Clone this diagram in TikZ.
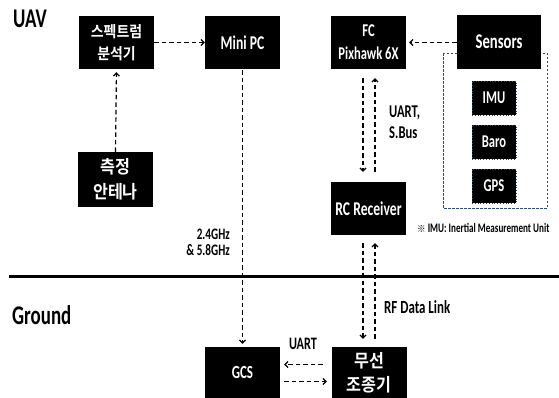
\documentclass[tikz,border=0pt]{standalone}
\usepackage{fontspec}
\setmainfont{Carlito}[FakeStretch=0.7]
\newfontfamily\kr{Noto Sans CJK KR Bold}[FakeStretch=0.9]
\usetikzlibrary{arrows.meta}
\definecolor{navy}{HTML}{2F4A7A}
\begin{document}
\begin{tikzpicture}[x=1pt,y=-1pt,
  blk/.style={fill=black,text=white,inner sep=0pt,minimum width=75pt,minimum height=53pt,align=center},
  lat/.style={font=\bfseries\fontsize{#1}{22}\selectfont},
  conn/.style={line width=1.2pt,dash pattern=on 4.5pt off 3pt,
    -{Straight Barb[length=3pt,width=6pt,line width=1.2pt]}},
  lbl/.style={inner sep=0pt,align=left}]
\useasboundingbox (0,0) rectangle (559,397);
% section titles
\node[lbl,anchor=west,font=\bfseries\fontsize{27}{30}\selectfont] (uav) at (13,19) {UAV};
\node[lbl,anchor=west,font=\bfseries\fontsize{27}{30}\selectfont] (ground) at (12,315) {Ground};
\draw[line width=3pt] (9,276) -- (559,276);
% sensor group
\draw[navy,line width=0.9pt,dash pattern=on 2.5pt off 1.5pt] (443,53) rectangle (547,208);
% boxes
\node[blk,font=\kr\fontsize{15.5}{22}\selectfont] (spec) at (116.5,42.5) {스펙트럼\\분석기};
\node[blk,lat=19.5] (mini) at (242.5,42.5) {Mini PC};
\node[blk,font=\kr\fontsize{18}{25}\selectfont,minimum height=55pt] (ant) at (115.5,179.5) {측정\\안테나};
\node[blk,font=\bfseries\fontsize{18}{23}\selectfont] (fc) at (368.5,42.5) {FC\\Pixhawk 6X};
\node[blk,lat=21,minimum width=84pt,minimum height=54pt] (sens) at (499,42) {Sensors};
\node[blk,lat=18,minimum width=44pt,minimum height=34pt,draw=navy,dotted,line width=0.8pt] (imu) at (494,98) {IMU};
\node[blk,lat=18,minimum width=44pt,minimum height=34pt,draw=navy,dotted,line width=0.8pt] (baro) at (494,142) {Baro};
\node[blk,lat=18,minimum width=44pt,minimum height=34pt,draw=navy,dotted,line width=0.8pt] (gps) at (494,186) {GPS};
\node[blk,lat=19.5] (rc) at (368.5,208.5) {RC Receiver};
\node[blk,lat=18.5,minimum height=51pt] (gcs) at (242.5,372.5) {GCS};
\node[blk,font=\kr\fontsize{18}{24}\selectfont,minimum height=51pt] (rcx) at (369,372.5) {무선\\조종기};
% labels
\node[lbl,anchor=west,font=\bfseries\fontsize{18}{21}\selectfont] (uart1) at (389,122.5) {UART,\\S.Bus};
\node[lbl,anchor=east,align=right,font=\bfseries\fontsize{16}{16}\selectfont] (ghz) at (230,242) {2.4GHz\\\& 5.8GHz};
\node[lbl,anchor=west,font=\bfseries\fontsize{18.5}{20}\selectfont] (rf) at (384,307) {RF Data Link};
\node[lbl,font=\bfseries\fontsize{17.5}{20}\selectfont] (uart2) at (303,344) {UART};
\node[lbl,anchor=west,font=\bfseries\fontsize{13}{14}\selectfont] (note) at (417,228) {{\kr\fontsize{9.5}{12}\selectfont ※} IMU: Inertial Measurement Unit};
% connectors
\draw[conn] (spec.east) -- (mini.west);
\draw[conn,shorten >=3pt] (ant.north) -- (spec.south);
\draw[conn,shorten >=3pt] (sens.west |- fc.east) -- (fc.east);
\draw[conn,shorten <=1pt,shorten >=3pt] (mini.south) -- (gcs.north);
\draw[conn,shorten <=9pt,shorten >=10pt] ([xshift=-5.5pt]fc.south) -- ([xshift=-5.5pt]rc.north);
\draw[conn,shorten <=10pt,shorten >=9pt] ([xshift=6.5pt]rc.north) -- ([xshift=6.5pt]fc.south);
\draw[conn,shorten <=8pt,shorten >=8pt] ([xshift=-5.5pt]rc.south) -- ([xshift=-5.5pt]rc.south |- rcx.north);
\draw[conn,shorten <=8pt,shorten >=8pt] ([xshift=6.5pt]rc.south |- rcx.north) -- ([xshift=6.5pt]rc.south);
\draw[conn,shorten <=8.5pt,shorten >=4pt] ([yshift=8pt]rcx.west) -- ([yshift=8pt]rcx.west -| gcs.east);
\draw[conn,shorten <=4pt,shorten >=4.5pt] ([yshift=-9pt]gcs.east) -- ([yshift=-9pt]gcs.east -| rcx.west);
\end{tikzpicture}
\end{document}
